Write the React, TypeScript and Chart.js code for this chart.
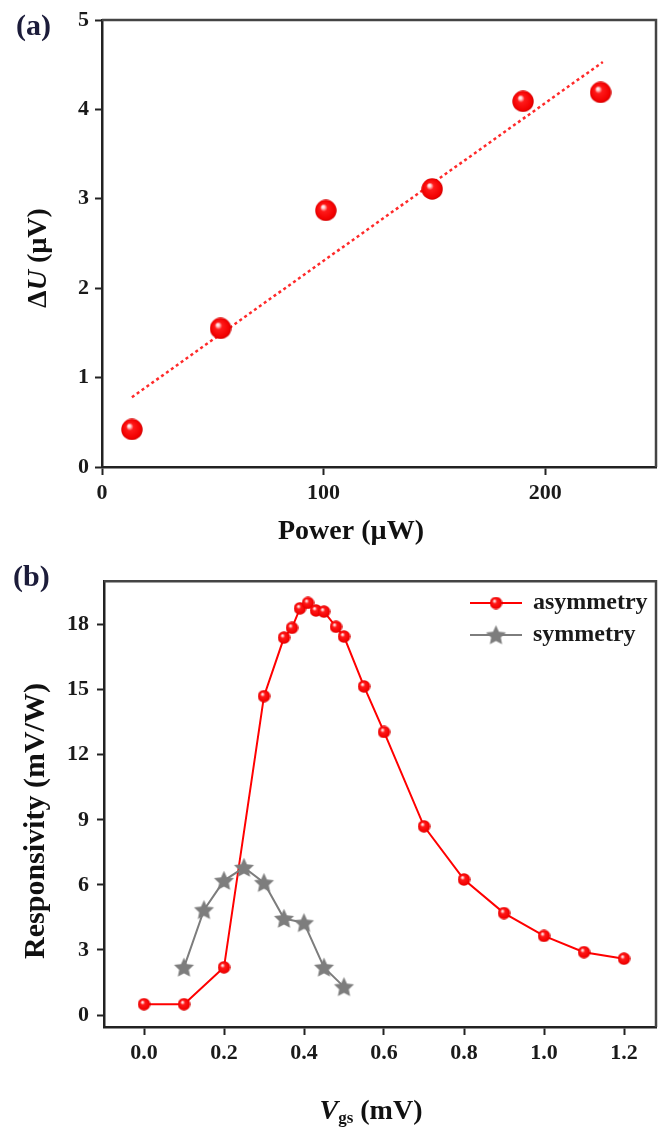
import React, { useEffect, useRef } from 'react';
import { Chart, registerables } from 'chart.js';

Chart.register(...registerables);

// ---------- Panel (a) data ----------
const powerUW = [13.5, 53.5, 101, 149, 190, 225];
const deltaU = [0.42, 1.55, 2.87, 3.11, 4.09, 4.19];
const fitPower = [13.5, 226];
const fitDeltaU = [0.78, 4.53];
const powerTicks = [0, 100, 200];
const deltaUTicks = [0, 1, 2, 3, 4, 5];

// ---------- Panel (b) data ----------
const vgsAsym = [0.0, 0.1, 0.2, 0.3, 0.35, 0.37, 0.39, 0.41, 0.43, 0.45, 0.48, 0.5, 0.55, 0.6, 0.7, 0.8, 0.9, 1.0, 1.1, 1.2];
const respAsym = [0.5, 0.5, 2.2, 14.7, 17.4, 17.85, 18.75, 19.0, 18.65, 18.6, 17.9, 17.45, 15.15, 13.05, 8.7, 6.25, 4.7, 3.65, 2.9, 2.6];
const vgsSym = [0.1, 0.15, 0.2, 0.25, 0.3, 0.35, 0.4, 0.45, 0.5];
const respSym = [2.2, 4.85, 6.2, 6.8, 6.1, 4.45, 4.25, 2.2, 1.3];
const vgsTicks = [0, 0.2, 0.4, 0.6, 0.8, 1.0, 1.2];
const respTicks = [0, 3, 6, 9, 12, 15, 18];
const seriesNames = ['asymmetry', 'symmetry'];

const SERIF = "'Liberation Serif', 'Times New Roman', serif";
const RED = '#ff0000';
const GREY = '#7d7d7d';

function makeSphere(d: number): HTMLCanvasElement {
  const c = document.createElement('canvas');
  c.width = d;
  c.height = d;
  const ctx = c.getContext('2d')!;
  const r = d / 2;
  const g = ctx.createRadialGradient(d * 0.36, d * 0.32, 0, r, r, r);
  g.addColorStop(0, '#ffffff');
  g.addColorStop(0.14, '#ffd0d0');
  g.addColorStop(0.34, '#ff1a1a');
  g.addColorStop(0.85, '#f20000');
  g.addColorStop(1, '#c80000');
  ctx.fillStyle = g;
  ctx.beginPath();
  ctx.arc(r, r, r - 0.3, 0, Math.PI * 2);
  ctx.fill();
  return c;
}

function makeStar(R: number, color: string): HTMLCanvasElement {
  const size = Math.ceil(R * 2 + 2);
  const c = document.createElement('canvas');
  c.width = size;
  c.height = size;
  const ctx = c.getContext('2d')!;
  const cx = size / 2;
  const cy = size / 2 + R * 0.08;
  const inner = R * 0.48;
  ctx.beginPath();
  for (let i = 0; i < 10; i++) {
    const rr = i % 2 === 0 ? R : inner;
    const a = -Math.PI / 2 + (i * Math.PI) / 5;
    const x = cx + rr * Math.cos(a);
    const y = cy + rr * Math.sin(a);
    if (i === 0) ctx.moveTo(x, y);
    else ctx.lineTo(x, y);
  }
  ctx.closePath();
  ctx.fillStyle = color;
  ctx.fill();
  return c;
}

type Run = { text: string; font: string; dy?: number };

function drawRuns(ctx: CanvasRenderingContext2D, runs: Run[], tx: number, ty: number, rotate: boolean, color = '#111') {
  ctx.save();
  ctx.translate(tx, ty);
  if (rotate) ctx.rotate(-Math.PI / 2);
  let total = 0;
  const widths = runs.map((r) => {
    ctx.font = r.font;
    const w = ctx.measureText(r.text).width;
    total += w;
    return w;
  });
  let x = -total / 2;
  ctx.textAlign = 'left';
  ctx.textBaseline = 'alphabetic';
  ctx.fillStyle = color;
  runs.forEach((r, i) => {
    ctx.font = r.font;
    ctx.fillText(r.text, x, r.dy ?? 0);
    x += widths[i];
  });
  ctx.restore();
}

const framePlugin = {
  id: 'frame',
  afterDraw(chart: any) {
    const { ctx, chartArea } = chart;
    ctx.save();
    ctx.strokeStyle = '#444';
    ctx.lineWidth = 2.5;
    ctx.beginPath();
    ctx.moveTo(chartArea.left, chartArea.top);
    ctx.lineTo(chartArea.right, chartArea.top);
    ctx.lineTo(chartArea.right, chartArea.bottom);
    ctx.stroke();
    ctx.restore();
  },
};

const tickFont = { family: SERIF, size: 22, weight: 'bold' as const };

function axisCommon(tickLength: number) {
  return {
    grid: { display: true, drawOnChartArea: false, drawTicks: true, tickLength, tickWidth: 2, tickColor: '#222' },
    border: { display: true, color: '#222', width: 2.5 },
  };
}

export default function App() {
  const refA = useRef<HTMLCanvasElement>(null);
  const refB = useRef<HTMLCanvasElement>(null);

  useEffect(() => {
    const sphereA = makeSphere(22);
    const sphereB = makeSphere(13);
    const star = makeStar(10.5, GREY);

    const textA = {
      id: 'textA',
      afterDraw(chart: any) {
        const ctx = chart.ctx as CanvasRenderingContext2D;
        ctx.save();
        ctx.font = `bold 30px ${SERIF}`;
        ctx.fillStyle = '#1c1c3a';
        ctx.textAlign = 'left';
        ctx.textBaseline = 'alphabetic';
        ctx.fillText('(a)', 16, 35);
        ctx.restore();
        drawRuns(ctx, [
          { text: 'Δ', font: `bold 28px ${SERIF}` },
          { text: 'U', font: `italic bold 28px ${SERIF}` },
          { text: ' (µV)', font: `bold 28px ${SERIF}` },
        ], 45.5, 258, true);
        drawRuns(ctx, [{ text: 'Power (µW)', font: `bold 28px ${SERIF}` }], 351, 539, false);
      },
    };

    const textB = {
      id: 'textB',
      afterDraw(chart: any) {
        const ctx = chart.ctx as CanvasRenderingContext2D;
        ctx.save();
        ctx.font = `bold 30px ${SERIF}`;
        ctx.fillStyle = '#1c1c3a';
        ctx.textAlign = 'left';
        ctx.textBaseline = 'alphabetic';
        ctx.fillText('(b)', 13, 26);
        ctx.restore();
        drawRuns(ctx, [{ text: 'Responsivity (mV/W)', font: `bold 30px ${SERIF}` }], 44, 261, true);
        drawRuns(ctx, [
          { text: 'V', font: `italic bold 28px ${SERIF}` },
          { text: 'gs', font: `bold 17px ${SERIF}`, dy: 4 },
          { text: ' (mV)', font: `bold 28px ${SERIF}` },
        ], 371, 559, false);

        // legend
        const rows = [
          { y: 43, color: RED, img: sphereB, width: 2 },
          { y: 75, color: GREY, img: star, width: 2 },
        ];
        rows.forEach((r, i) => {
          ctx.save();
          ctx.strokeStyle = r.color;
          ctx.lineWidth = r.width;
          ctx.beginPath();
          ctx.moveTo(470, r.y);
          ctx.lineTo(522, r.y);
          ctx.stroke();
          ctx.drawImage(r.img, 496 - r.img.width / 2, r.y - r.img.height / 2);
          ctx.font = `bold 24px ${SERIF}`;
          ctx.fillStyle = '#1a1a1a';
          ctx.textAlign = 'left';
          ctx.textBaseline = 'alphabetic';
          ctx.fillText(seriesNames[i], 533, r.y + 6);
          ctx.restore();
        });
      },
    };

    const chartA = new Chart(refA.current!, {
      type: 'scatter',
      data: {
        datasets: [
          {
            label: 'fit',
            data: fitPower.map((x, i) => ({ x, y: fitDeltaU[i] })),
            showLine: true,
            borderColor: '#ff2a2a',
            borderWidth: 2.5,
            borderDash: [3, 3],
            pointRadius: 0,
            order: 2,
          },
          {
            label: 'ΔU',
            data: powerUW.map((x, i) => ({ x, y: deltaU[i] })),
            showLine: false,
            pointStyle: sphereA as any,
            pointRadius: 11,
            order: 1,
          },
        ],
      },
      options: {
        responsive: false,
        animation: false,
        devicePixelRatio: 1,
        events: [],
        layout: { autoPadding: false, padding: { left: 0, right: 3, top: 20, bottom: 0 } },
        plugins: { legend: { display: false }, tooltip: { enabled: false }, title: { display: false } },
        scales: {
          x: {
            type: 'linear',
            min: 0,
            max: 250,
            afterFit: (s: any) => { s.height = 93; },
            afterBuildTicks: (s: any) => { s.ticks = powerTicks.map((v) => ({ value: v })); },
            ...axisCommon(8),
            ticks: { font: tickFont, color: '#1a1a1a', padding: 5, maxRotation: 0, autoSkip: false },
          },
          y: {
            type: 'linear',
            min: 0,
            max: 5,
            afterFit: (s: any) => { s.width = 102; },
            afterBuildTicks: (s: any) => { s.ticks = deltaUTicks.map((v) => ({ value: v })); },
            ...axisCommon(7),
            ticks: { font: tickFont, color: '#1a1a1a', padding: 6, autoSkip: false },
          },
        },
      } as any,
      plugins: [framePlugin, textA],
    });

    const chartB = new Chart(refB.current!, {
      type: 'scatter',
      data: {
        datasets: [
          {
            label: seriesNames[0],
            data: vgsAsym.map((x, i) => ({ x, y: respAsym[i] })),
            showLine: true,
            borderColor: RED,
            borderWidth: 2,
            pointStyle: sphereB as any,
            pointRadius: 6.5,
            order: 2,
          },
          {
            label: seriesNames[1],
            data: vgsSym.map((x, i) => ({ x, y: respSym[i] })),
            showLine: true,
            borderColor: GREY,
            borderWidth: 2,
            pointStyle: star as any,
            pointRadius: 10,
            order: 1,
          },
        ],
      },
      options: {
        responsive: false,
        animation: false,
        devicePixelRatio: 1,
        events: [],
        layout: { autoPadding: false, padding: { left: 0, right: 3, top: 15, bottom: 0 } },
        plugins: { legend: { display: false }, tooltip: { enabled: false }, title: { display: false } },
        scales: {
          x: {
            type: 'linear',
            min: -0.1,
            max: 1.28,
            afterFit: (s: any) => { s.height = 100; },
            afterBuildTicks: (s: any) => { s.ticks = vgsTicks.map((v) => ({ value: v })); },
            ...axisCommon(8),
            ticks: {
              font: tickFont,
              color: '#1a1a1a',
              padding: 5,
              maxRotation: 0,
              autoSkip: false,
              callback: (v: any) => Number(v).toFixed(1),
            },
          },
          y: {
            type: 'linear',
            min: -0.55,
            max: 20,
            afterFit: (s: any) => { s.width = 104; },
            afterBuildTicks: (s: any) => { s.ticks = respTicks.map((v) => ({ value: v })); },
            ...axisCommon(7),
            ticks: { font: tickFont, color: '#1a1a1a', padding: 8, autoSkip: false },
          },
        },
      } as any,
      plugins: [framePlugin, textB],
    });

    return () => {
      chartA.destroy();
      chartB.destroy();
    };
  }, []);

  return (
    <div style={{ position: 'absolute', left: 0, top: 0, width: 659, height: 1127, background: '#fff' }}>
      <canvas ref={refA} width={659} height={560} style={{ display: 'block', width: 659, height: 560 }} />
      <canvas ref={refB} width={659} height={567} style={{ display: 'block', width: 659, height: 567 }} />
    </div>
  );
}
